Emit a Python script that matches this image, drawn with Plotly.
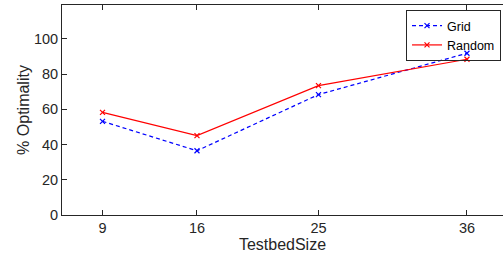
import plotly.graph_objects as go

testbed_size = [9, 16, 25, 36]
grid_values = [53.2, 36.5, 68.4, 91.9]
random_values = [58.3, 45.1, 73.5, 88.5]
y_ticks = [0, 20, 40, 60, 80, 100]

fig = go.Figure()
fig.add_trace(go.Scatter(
    x=testbed_size, y=grid_values, name="Grid", mode="lines+markers",
    line=dict(color="rgb(0,0,255)", width=1.2, dash="4px,3px"),
    marker=dict(symbol="x-thin", size=5, line=dict(color="rgb(0,0,255)", width=1.2)),
))
fig.add_trace(go.Scatter(
    x=testbed_size, y=random_values, name="Random", mode="lines+markers",
    line=dict(color="rgb(255,0,0)", width=1.2),
    marker=dict(symbol="x-thin", size=5, line=dict(color="rgb(255,0,0)", width=1.2)),
))

axis_color = "#262626"
fig.update_layout(
    width=503, height=260,
    margin=dict(l=62, r=0, t=5, b=45, autoexpand=False),
    paper_bgcolor="white", plot_bgcolor="white",
    font=dict(family="Liberation Sans, Arial, sans-serif", size=14.5, color=axis_color),
    showlegend=True,
    legend=dict(
        x=0.9955, y=0.976, xanchor="right", yanchor="top",
        bgcolor="rgba(255,255,255,0)", bordercolor=axis_color, borderwidth=1,
        font=dict(size=12.5, color="#000000"),
        tracegroupgap=0, itemwidth=30,
    ),
    xaxis=dict(
        range=[6, 38.67], tickvals=testbed_size, ticktext=[str(v) for v in testbed_size],
        showgrid=False, zeroline=False, showline=True, linecolor=axis_color, linewidth=1,
        mirror="ticks", ticks="inside", ticklen=5, tickcolor=axis_color, automargin=False,
        title=dict(text="TestbedSize", standoff=3, font=dict(size=16)),
    ),
    yaxis=dict(
        range=[0, 119.3], tickvals=y_ticks,
        showgrid=False, zeroline=False, showline=True, linecolor=axis_color, linewidth=1,
        mirror=False, ticks="inside", ticklen=5, tickcolor=axis_color, automargin=False,
        title=dict(text="% Optimality", standoff=0, font=dict(size=16)),
    ),
)

fig.write_html(
    "out.html",
    config={"displayModeBar": False},
    post_script="document.body.style.margin='0';document.body.style.overflow='hidden';",
)
